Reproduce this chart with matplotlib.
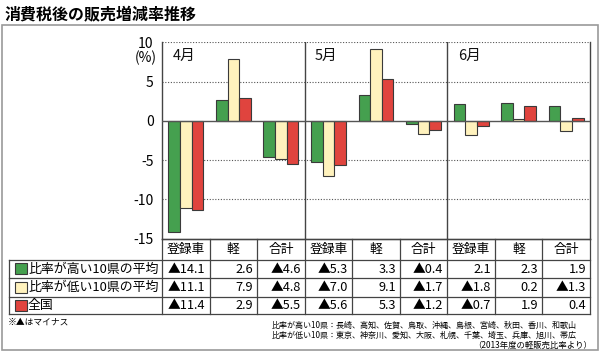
import matplotlib
matplotlib.use("Agg")
import matplotlib.pyplot as plt
from matplotlib.patches import Rectangle
import numpy as np

plt.rcParams['font.family'] = ['Noto Sans CJK JP', 'DejaVu Sans']

# ---- data ----
title = '消費税後の販売増減率推移'
months = ['4月', '5月', '6月']
categories = ['登録車', '軽', '合計', '登録車', '軽', '合計', '登録車', '軽', '合計']
series_names = ['比率が高い10県の平均', '比率が低い10県の平均', '全国']
high = [-14.1, 2.6, -4.6, -5.3, 3.3, -0.4, 2.1, 2.3, 1.9]
low = [-11.1, 7.9, -4.8, -7.0, 9.1, -1.7, -1.8, 0.2, -1.3]
nation = [-11.4, 2.9, -5.5, -5.6, 5.3, -1.2, -0.7, 1.9, 0.4]
yticks = [10, 5, 0, -5, -10, -15]
note_left = '※▲はマイナス'
note_lines = ['比率が高い10県：長崎、高知、佐賀、鳥取、沖縄、島根、宮崎、秋田、香川、和歌山',
              '比率が低い10県：東京、神奈川、愛知、大阪、札幌、千葉、埼玉、兵庫、旭川、帯広']
note_src = '（2013年度の軽販売比率より）'

colors = ['#45a04f', '#fff2bd', '#e0443e']
edge = '#3a3a3a'

W, H = 600, 356
fig = plt.figure(figsize=(W / 100, H / 100), dpi=100)

# layout in pixels
ax_l, ax_r, ax_t, ax_b = 162, 590, 42.3, 238.6
ax = fig.add_axes([ax_l / W, 1 - ax_b / H, (ax_r - ax_l) / W, (ax_b - ax_t) / H])
ax.set_facecolor('none')

n = len(categories)
x = np.arange(n)
bw = 0.245
series = [high, low, nation]
for k, (vals, c) in enumerate(zip(series, colors)):
    ax.bar(x + (k - 1) * bw, vals, width=bw, color=c, edgecolor=edge, linewidth=0.8, zorder=3)

ax.set_xlim(-0.5, n - 0.5)
ax.set_ylim(-15, 10)
ax.set_yticks(yticks)
ax.set_yticklabels([str(v) for v in yticks], fontsize=10)
ax.tick_params(axis='y', length=0, pad=6)
ax.set_xticks([])
for v in yticks:
    if v in (10, 5, -5, -10):
        ax.axhline(v, color='#555555', lw=0.8, ls=(0, (1, 1.5)), zorder=1)
ax.axhline(0, color='#555555', lw=1.0, zorder=4)
for s in ['left', 'right', 'bottom']:
    ax.spines[s].set_color('#444444')
    ax.spines[s].set_linewidth(1.0)
ax.spines['top'].set_visible(False)
for b in (2.5, 5.5):
    ax.axvline(b, color='#444444', lw=1.0, zorder=2)
for m, name in enumerate(months):
    ax.text(m * 3 - 0.28, 8.3, name, fontsize=10.5, ha='left', va='center', color='#111111')

# ---- overlay for table & text ----
ov = fig.add_axes([0, 0, 1, 1], zorder=5)
ov.set_xlim(0, W)
ov.set_ylim(H, 0)
ov.axis('off')
ov.patch.set_alpha(0)

ov.add_patch(Rectangle((2, 25), 596, 325, fill=False, edgecolor='#9a9a9a', lw=1.2))
ov.text(5, 14, title, fontsize=11.5, fontweight='bold', ha='left', va='center')
ov.text(157, 58, '(%)', fontsize=10, ha='right', va='center')

colw = (ax_r - ax_l) / n
rows = [239, 259.5, 278, 296.5, 314]
lc = '#444444'
lw = 0.9
ov.plot([ax_l, ax_r], [rows[0], rows[0]], color=lc, lw=lw)
for i in range(n + 1):
    xx = ax_l + i * colw
    ov.plot([xx, xx], [rows[0], rows[4]], color=lc, lw=lw)
for r in rows[1:]:
    ov.plot([9, ax_r], [r, r], color=lc, lw=lw)
ov.plot([9, 9], [rows[1], rows[4]], color=lc, lw=lw)

for i, c in enumerate(categories):
    ov.text(ax_l + (i + 0.5) * colw, (rows[0] + rows[1]) / 2 + 0.5, c, fontsize=9.2,
            ha='center', va='center')

def fmt(v):
    return ('▲%.1f' % abs(v)) if v < 0 else '%.1f' % v

for k, (vals, name, c) in enumerate(zip(series, series_names, colors)):
    yc = (rows[k + 1] + rows[k + 2]) / 2
    ov.add_patch(Rectangle((15, yc - 5.5), 12, 11, facecolor=c, edgecolor=edge, lw=0.8))
    ov.text(28, yc + 0.5, name, fontsize=9.3, ha='left', va='center')
    for i, v in enumerate(vals):
        ov.text(ax_l + (i + 1) * colw - 4, yc + 0.5, fmt(v), fontsize=9.2,
                ha='right', va='center')

ov.text(8, 322, note_left, fontsize=6.3, ha='left', va='center')
for j, line in enumerate(note_lines):
    ov.text(272, 325 + j * 10, line, fontsize=5.8, ha='left', va='center')
ov.text(592, 345, note_src, fontsize=6.0, ha='right', va='center')

fig.savefig('out.png', dpi=100)
